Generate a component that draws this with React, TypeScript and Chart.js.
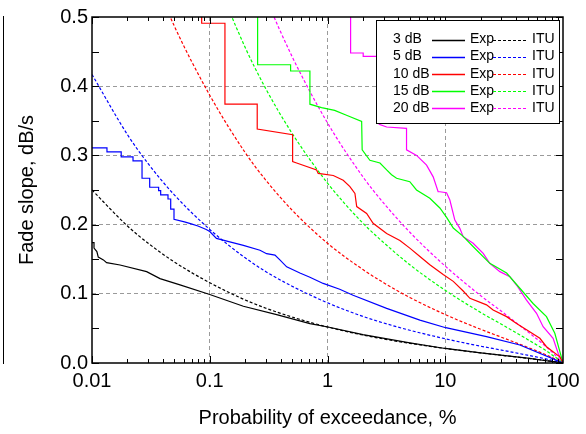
import React, { useEffect, useRef } from "react";
import { Chart, registerables } from "chart.js";

Chart.register(...registerables);

const FONT = "'Liberation Sans', Arial, Helvetica, sans-serif";

// ---- labels / styling lists ----
const seriesNames = ["3 dB", "5 dB", "10 dB", "15 dB", "20 dB"];
const seriesColors = ["#000000", "#0000ff", "#ff0000", "#00ff00", "#ff00ff"];
const xTickValues = [0.01, 0.1, 1, 10, 100];
const xTickLabels = ["0.01", "0.1", "1", "10", "100"];
const yTickValues = [0, 0.1, 0.2, 0.3, 0.4, 0.5];
const yTickLabels = ["0.0", "0.1", "0.2", "0.3", "0.4", "0.5"];

// ---- ITU curves (probability of exceedance, % -> fade slope, dB/s) ----
const ituProb = [0.01, 0.02, 0.03, 0.05, 0.1, 0.2, 0.3, 0.5, 1, 2, 3, 5, 10, 20, 30, 50, 70, 90, 100];
const itu3dB = [0.25, 0.198, 0.173, 0.146, 0.116, 0.0911, 0.0792, 0.0664, 0.052, 0.0404, 0.0347, 0.0284, 0.021, 0.0146, 0.0112, 0.0068, 0.0038, 0.0012, 0];
const itu5dB = [0.417, 0.33, 0.288, 0.243, 0.193, 0.152, 0.132, 0.111, 0.087, 0.0673, 0.0578, 0.0473, 0.035, 0.0243, 0.0187, 0.0113, 0.0063, 0.002, 0];
const itu10dB = [0.833, 0.66, 0.577, 0.487, 0.387, 0.304, 0.264, 0.221, 0.173, 0.135, 0.116, 0.0947, 0.07, 0.0487, 0.0373, 0.0227, 0.0127, 0.004, 0];
const itu15dB = [1.25, 0.99, 0.865, 0.73, 0.58, 0.456, 0.396, 0.332, 0.26, 0.202, 0.174, 0.142, 0.105, 0.073, 0.056, 0.034, 0.019, 0.006, 0];
const itu20dB = [1.667, 1.32, 1.153, 0.973, 0.773, 0.607, 0.528, 0.443, 0.347, 0.269, 0.231, 0.189, 0.14, 0.0973, 0.0747, 0.0453, 0.0253, 0.008, 0];

// ---- Experimental curves ----
const exp3Prob = [0.01, 0.0104, 0.0104, 0.011, 0.0113, 0.0125, 0.0133, 0.0173, 0.0291, 0.0378, 0.0559, 0.1, 0.193, 0.37, 0.709, 1.01, 2, 5, 10, 20, 50, 100];
const exp3Slope = [0.174, 0.174, 0.166, 0.161, 0.153, 0.149, 0.145, 0.1416, 0.132, 0.122, 0.113, 0.099, 0.082, 0.07, 0.057, 0.052, 0.041, 0.029, 0.021, 0.0145, 0.007, 0];

const exp5Prob = [0.01, 0.0134, 0.0134, 0.0177, 0.0177, 0.0223, 0.0223, 0.0266, 0.0266, 0.0309, 0.0309, 0.0368, 0.0368, 0.0383, 0.0383, 0.0442, 0.0442, 0.0466, 0.0466, 0.0497, 0.0497, 0.061, 0.0697, 0.0794, 0.0934, 0.1, 0.114, 0.148, 0.193, 0.267, 0.304, 0.358, 0.394, 0.45, 0.583, 0.709, 0.919, 1.27, 1.65, 3.18, 6.09, 10.1, 22.4, 43, 100];
const exp5Slope = [0.311, 0.311, 0.305, 0.305, 0.298, 0.298, 0.292, 0.292, 0.267, 0.267, 0.254, 0.254, 0.249, 0.249, 0.243, 0.243, 0.237, 0.237, 0.2225, 0.2225, 0.2076, 0.204, 0.201, 0.198, 0.193, 0.19, 0.18, 0.175, 0.17, 0.163, 0.158, 0.156, 0.149, 0.139, 0.13, 0.124, 0.115, 0.1065, 0.098, 0.079, 0.062, 0.051, 0.038, 0.026, 0];

const exp10Prob = [0.0854, 0.0854, 0.1346, 0.1346, 0.253, 0.253, 0.5055, 0.5055, 0.547, 0.808, 0.834, 1.12, 1.36, 1.55, 1.71, 1.77, 2.15, 2.44, 3.18, 4.12, 5.0, 6.09, 7.4, 9.6, 11.7, 14.2, 16.2, 22.4, 25.5, 33.2, 40.3, 49, 63.6, 72.4, 93.9, 100];
const exp10Slope = [0.55, 0.491, 0.491, 0.374, 0.374, 0.338, 0.33, 0.291, 0.289, 0.279, 0.274, 0.271, 0.264, 0.255, 0.245, 0.226, 0.216, 0.202, 0.187, 0.177, 0.166, 0.154, 0.142, 0.128, 0.118, 0.104, 0.0935, 0.084, 0.0766, 0.067, 0.057, 0.048, 0.0357, 0.0235, 0.009, 0];

const exp15Prob = [0.255, 0.255, 0.486, 0.486, 0.709, 0.709, 0.89, 1.15, 1.45, 1.95, 1.97, 2.29, 2.79, 3.18, 3.5, 3.86, 5.0, 5.7, 7.4, 9.0, 10.3, 11.7, 14.2, 17.3, 23.9, 33.2, 43, 55.7, 72.4, 85.2, 100];
const exp15Slope = [0.55, 0.431, 0.431, 0.422, 0.422, 0.374, 0.369, 0.365, 0.358, 0.349, 0.308, 0.293, 0.289, 0.279, 0.272, 0.267, 0.262, 0.25, 0.238, 0.224, 0.21, 0.195, 0.183, 0.168, 0.144, 0.13, 0.108, 0.086, 0.067, 0.043, 0];

const exp20Prob = [1.571, 1.571, 2.01, 2.01, 2.75, 2.75, 3.18, 4.69, 4.69, 5.71, 6.94, 7.9, 8.7, 9.0, 10.26, 10.94, 12.06, 13.3, 14.19, 17.25, 21, 23.9, 29.1, 35.4, 40.3, 49, 59.6, 67.8, 82.4, 90.9, 100];
const exp20Slope = [0.55, 0.448, 0.448, 0.443, 0.443, 0.345, 0.341, 0.339, 0.308, 0.3, 0.286, 0.269, 0.2475, 0.2475, 0.246, 0.2355, 0.2066, 0.1946, 0.1825, 0.173, 0.1585, 0.144, 0.132, 0.1247, 0.1127, 0.091, 0.0718, 0.0525, 0.0357, 0.014, 0];

const expProbs = [exp3Prob, exp5Prob, exp10Prob, exp15Prob, exp20Prob];
const expSlopes = [exp3Slope, exp5Slope, exp10Slope, exp15Slope, exp20Slope];
const ituSlopes = [itu3dB, itu5dB, itu10dB, itu15dB, itu20dB];

const zip = (xs: number[], ys: number[]) => xs.map((x, i) => ({ x, y: ys[i] }));

const framePlugin = {
  id: "frameTicks",
  afterDatasetsDraw(chart: any) {
    const { ctx, chartArea, scales } = chart;
    const { left, right, top, bottom } = chartArea;
    const x = scales.x;
    const y = scales.y;
    ctx.save();
    ctx.strokeStyle = "#000";
    ctx.lineWidth = 1;
    ctx.beginPath();
    for (let d = -2; d < 2; d++) {
      for (let m = 1; m < 10; m++) {
        const v = m * Math.pow(10, d);
        const px = Math.round(x.getPixelForValue(v)) + 0.5;
        const len = m === 1 ? 7 : 4;
        ctx.moveTo(px, bottom);
        ctx.lineTo(px, bottom - len);
        ctx.moveTo(px, top);
        ctx.lineTo(px, top + len);
      }
    }
    for (let k = 0; k <= 10; k++) {
      const py = Math.round(y.getPixelForValue(k * 0.05)) + 0.5;
      ctx.moveTo(left, py);
      ctx.lineTo(left + 7, py);
      ctx.moveTo(right, py);
      ctx.lineTo(right - 7, py);
    }
    ctx.stroke();
    ctx.lineWidth = 1.5;
    ctx.strokeRect(left, top, right - left, bottom - top);
    ctx.restore();
  },
};

const legendPlugin = {
  id: "customLegend",
  afterDraw(chart: any) {
    const { ctx, chartArea } = chart;
    const bx = chartArea.right - 187;
    const by = chartArea.top + 3;
    const bw = 183;
    const bh = 103;
    ctx.save();
    ctx.fillStyle = "#fff";
    ctx.fillRect(bx, by, bw, bh);
    ctx.strokeStyle = "#000";
    ctx.lineWidth = 1;
    ctx.strokeRect(bx + 0.5, by + 0.5, bw, bh);
    ctx.font = `14px ${FONT}`;
    ctx.textBaseline = "middle";
    ctx.textAlign = "left";
    for (let i = 0; i < seriesNames.length; i++) {
      const ry = by + 19.5 + i * 17.1;
      ctx.fillStyle = "#000";
      ctx.fillText(seriesNames[i], bx + 17, ry);
      const tw = ctx.measureText(seriesNames[i]).width;
      const s0 = Math.max(bx + 17 + tw + 2, bx + 56);
      ctx.strokeStyle = seriesColors[i];
      ctx.lineWidth = 1.5;
      ctx.setLineDash([]);
      ctx.beginPath();
      ctx.moveTo(s0, Math.round(ry) + 0.5);
      ctx.lineTo(bx + 89, Math.round(ry) + 0.5);
      ctx.stroke();
      ctx.fillStyle = "#000";
      ctx.fillText("Exp", bx + 94, ry);
      ctx.setLineDash([3, 2]);
      ctx.lineWidth = 1;
      ctx.beginPath();
      ctx.moveTo(bx + 117, Math.round(ry) + 0.5);
      ctx.lineTo(bx + 152, Math.round(ry) + 0.5);
      ctx.stroke();
      ctx.setLineDash([]);
      ctx.fillStyle = "#000";
      ctx.fillText("ITU", bx + 156, ry);
    }
    ctx.restore();
  },
};

export default function App() {
  const ref = useRef<HTMLCanvasElement>(null);

  useEffect(() => {
    document.body.style.margin = "0";
    const canvas = ref.current;
    if (!canvas) return;
    const datasets: any[] = [];
    for (let i = 0; i < seriesNames.length; i++) {
      datasets.push({
        label: `${seriesNames[i]} Exp`,
        data: zip(expProbs[i], expSlopes[i]),
        borderColor: seriesColors[i],
        backgroundColor: seriesColors[i],
        borderWidth: 1.2,
        pointRadius: 0,
        tension: 0,
        fill: false,
      });
      datasets.push({
        label: `${seriesNames[i]} ITU`,
        data: zip(ituProb, ituSlopes[i]),
        borderColor: seriesColors[i],
        backgroundColor: seriesColors[i],
        borderWidth: 1.2,
        borderDash: [3, 2],
        pointRadius: 0,
        cubicInterpolationMode: "monotone",
        fill: false,
      });
    }

    const gridColor = (c: any) => {
      const v = c.tick ? c.tick.value : null;
      return v === 0.01 || v === 100 || v === 0 || v === 0.5 ? "rgba(0,0,0,0)" : "#9a9a9a";
    };

    const chart = new Chart(canvas, {
      type: "line",
      data: { datasets },
      plugins: [framePlugin, legendPlugin],
      options: {
        animation: false,
        responsive: false,
        devicePixelRatio: 1,
        layout: { padding: { left: 0, right: 23, top: 17, bottom: 0 } },
        plugins: { legend: { display: false }, tooltip: { enabled: false } },
        scales: {
          x: {
            type: "logarithmic",
            min: 0.01,
            max: 100,
            afterBuildTicks: (s: any) => {
              s.ticks = xTickValues.map((v) => ({ value: v }));
            },
            afterFit: (s: any) => {
              s.height = 71;
            },
            ticks: {
              autoSkip: false,
              maxRotation: 0,
              padding: 6,
              color: "#000",
              font: { family: FONT, size: 20 },
              callback: (_v: any, i: number) => xTickLabels[i],
            },
            grid: { color: gridColor, lineWidth: 1, drawTicks: false },
            border: { display: false, dash: [4, 3] },
            title: {
              display: true,
              text: "Probability of exceedance, %",
              color: "#000",
              font: { family: FONT, size: 20 },
              padding: { top: 4, bottom: 4 },
            },
          },
          y: {
            type: "linear",
            min: 0,
            max: 0.5,
            afterBuildTicks: (s: any) => {
              s.ticks = yTickValues.map((v) => ({ value: v }));
            },
            afterFit: (s: any) => {
              s.width = 92;
            },
            ticks: {
              padding: 4,
              color: "#000",
              font: { family: FONT, size: 20 },
              callback: (_v: any, i: number) => yTickLabels[i],
            },
            grid: { color: gridColor, lineWidth: 1, drawTicks: false },
            border: { display: false, dash: [4, 3] },
            title: {
              display: true,
              text: "Fade slope, dB/s",
              color: "#000",
              font: { family: FONT, size: 20 },
              padding: { top: 15, bottom: 15 },
            },
          },
        },
      } as any,
    });
    return () => chart.destroy();
  }, []);

  return (
    <div style={{ position: "relative", width: 586, height: 434 }}>
      <div
        style={{
          position: "absolute",
          left: 3,
          top: 16,
          width: 0,
          height: 348,
          borderLeft: "1.5px solid #000",
        }}
      />
      <canvas ref={ref} width={586} height={434} style={{ display: "block", width: 586, height: 434 }} />
    </div>
  );
}
